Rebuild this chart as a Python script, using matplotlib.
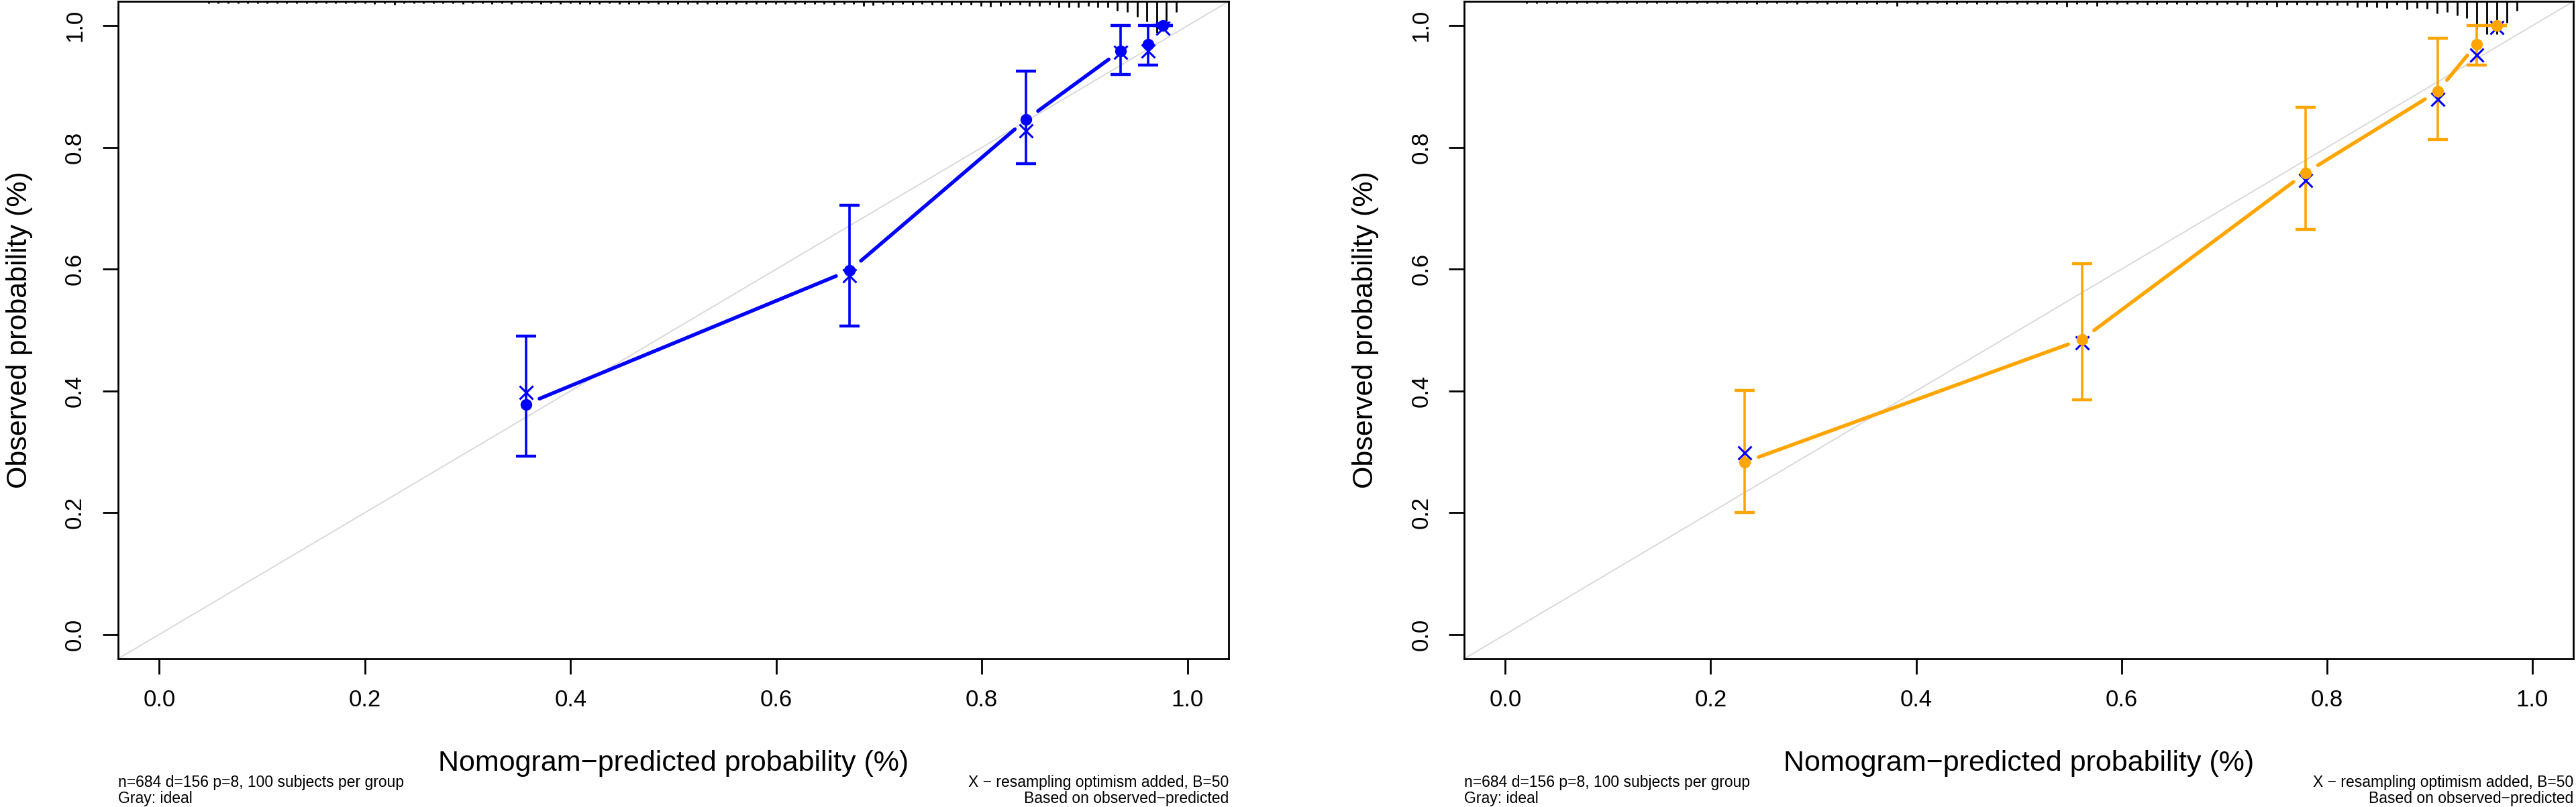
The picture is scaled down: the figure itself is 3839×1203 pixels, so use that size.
import numpy as np
import matplotlib
matplotlib.use("Agg")
import matplotlib.pyplot as plt
import matplotlib.transforms as mtransforms

plt.rcParams['font.family'] = ['Liberation Sans', 'DejaVu Sans']

# calibration groups (mean predicted, observed, bias-corrected, CI)
left_pred = [0.3565, 0.6715, 0.843, 0.935, 0.962, 0.976]
left_obs = [0.378, 0.598, 0.8456, 0.959, 0.970, 1.0]
left_corr = [0.398, 0.589, 0.827, 0.956, 0.959, 0.996]
left_lo = [0.293, 0.507, 0.773, 0.920, 0.935, 1.0]
left_hi = [0.490, 0.705, 0.925, 1.0, 1.0, 1.0]

right_pred = [0.233, 0.5617, 0.779, 0.9077, 0.9458, 0.9654]
right_obs = [0.283, 0.485, 0.758, 0.892, 0.970, 1.0]
right_corr = [0.298, 0.479, 0.746, 0.879, 0.952, 0.997]
right_lo = [0.200, 0.385, 0.665, 0.813, 0.935, 1.0]
right_hi = [0.401, 0.609, 0.866, 0.979, 1.0, 1.0]

# spike histogram of predicted values along the top
left_rug_range = (0.048, 0.989)
left_rug = [1, 1, 1, 1, 1, 1, 1, 1, 1, 1, 1, 1, 1, 1, 1, 1, 1, 2, 1, 3,
            1, 1, 1, 1, 1, 1, 2, 1, 1, 2, 1, 2, 1, 1, 2, 1, 2, 1, 2, 2,
            2, 1, 2, 2, 2, 1, 2, 2, 2, 2, 2, 2, 2, 2, 2, 2, 2, 2, 2, 2,
            2, 2, 2, 2, 3, 2, 2, 5, 4, 2, 3, 2, 3, 2, 3, 3, 3, 3, 3, 5, 6, 5,
            3, 3, 5, 5, 3, 8, 7, 8, 5, 8, 7, 13, 15, 23, 30, 48, 30, 15]
right_rug_range = (0.021, 0.985)
right_rug = [1, 1, 1, 1, 1, 1, 1, 1, 1, 1, 1, 1, 1, 1, 1, 1, 1, 1, 1, 1,
             1, 1, 1, 2, 1, 1, 1, 2, 1, 1, 2, 1, 1, 2, 1, 2, 1, 5, 1, 2,
             2, 1, 2, 2, 1, 2, 2, 2, 1, 2, 2, 2, 2, 2, 6, 2, 2, 5, 2, 2,
             2, 2, 3, 2, 2, 2, 3, 2, 2, 3, 2, 3, 6, 2, 3, 6, 3, 3, 3, 4, 3, 4, 4,
             8, 6, 8, 9, 3, 11, 9, 10, 17, 15, 20, 25, 43, 50, 50, 32, 13]

ticks = [0.0, 0.2, 0.4, 0.6, 0.8, 1.0]
tick_labels = ['0.0', '0.2', '0.4', '0.6', '0.8', '1.0']

fig = plt.figure(figsize=(38.39, 12.03), dpi=100)


def draw_panel(ax, pred, obs, corr, lo, hi, color, rug_range, rug):
    ax.set_xlim(-0.04, 1.04)
    ax.set_ylim(-0.04, 1.04)
    ax.plot([-0.04, 1.04], [-0.04, 1.04], color='#d9d9d9', lw=1.4, zorder=1)

    trans = mtransforms.blended_transform_factory(ax.transData, ax.transAxes)
    xs = np.linspace(rug_range[0], rug_range[1], len(rug))
    lens = 0.002 + 0.00095 * np.array(rug)
    ax.vlines(xs, 1 - lens, 1, transform=trans, color='black', lw=2, zorder=2)

    obs_a = np.array(obs)
    ax.errorbar(pred, obs, yerr=[obs_a - np.array(lo), np.array(hi) - obs_a],
                fmt='none', ecolor=color, elinewidth=2.6, capsize=10.5,
                capthick=3.2, zorder=3)

    # type="b" style line: segments with gaps around the points
    gap = 22
    pts = ax.transData.transform(np.column_stack([pred, obs]))
    inv = ax.transData.inverted()
    for p0, p1 in zip(pts[:-1], pts[1:]):
        d = p1 - p0
        L = np.hypot(d[0], d[1])
        if L <= 2 * gap:
            continue
        u = d / L
        a = inv.transform(p0 + u * gap)
        b = inv.transform(p1 - u * gap)
        ax.plot([a[0], b[0]], [a[1], b[1]], color=color, lw=3.9,
                solid_capstyle='round', zorder=3)

    ax.plot(pred, corr, 'x', color='#0000ff', ms=14, mew=2.2, zorder=4)
    ax.plot(pred, obs, 'o', color=color, ms=12.5, mew=0, zorder=5)

    ax.set_xticks(ticks)
    ax.set_xticklabels(tick_labels)
    ax.set_yticks(ticks)
    ax.set_yticklabels(tick_labels)
    ax.tick_params(axis='both', direction='out', length=16.5, width=2,
                   labelsize=25)
    ax.tick_params(axis='x', pad=16)
    ax.tick_params(axis='y', pad=18, labelrotation=90)
    for lab in ax.get_yticklabels():
        lab.set_va('center')
    for s in ax.spines.values():
        s.set_linewidth(2)

    ax.set_xlabel('Nomogram\u2212predicted probability (%)', fontsize=31)
    ax.set_ylabel('Observed probability (%)', fontsize=31)
    ax.xaxis.set_label_coords(0.5, -0.159)
    ax.xaxis.label.set_va('center')
    ax.yaxis.set_label_coords(-0.0888, 0.5)
    ax.yaxis.label.set_va('center')


ax1 = fig.add_axes([0.04585, 0.1837, 0.4311, 0.8146])
draw_panel(ax1, left_pred, left_obs, left_corr, left_lo, left_hi,
           '#0000ff', left_rug_range, left_rug)
ax2 = fig.add_axes([0.5684, 0.1837, 0.4306, 0.8146])
draw_panel(ax2, right_pred, right_obs, right_corr, right_lo, right_hi,
           '#ffa500', right_rug_range, right_rug)

for x0, x1 in [(0.04585, 0.4769), (0.5684, 0.99896)]:
    fig.text(x0, 1 - 1166 / 1203, 'n=684 d=156 p=8, 100 subjects per group',
             ha='left', va='center', fontsize=16.5)
    fig.text(x0, 1 - 1191 / 1203, 'Gray: ideal', ha='left', va='center',
             fontsize=16.5)
    fig.text(x1, 1 - 1166 / 1203, 'X \u2212 resampling optimism added, B=50',
             ha='right', va='center', fontsize=16.5)
    fig.text(x1, 1 - 1191 / 1203, 'Based on observed\u2212predicted',
             ha='right', va='center', fontsize=16.5)

fig.savefig('out.png', dpi=100)
